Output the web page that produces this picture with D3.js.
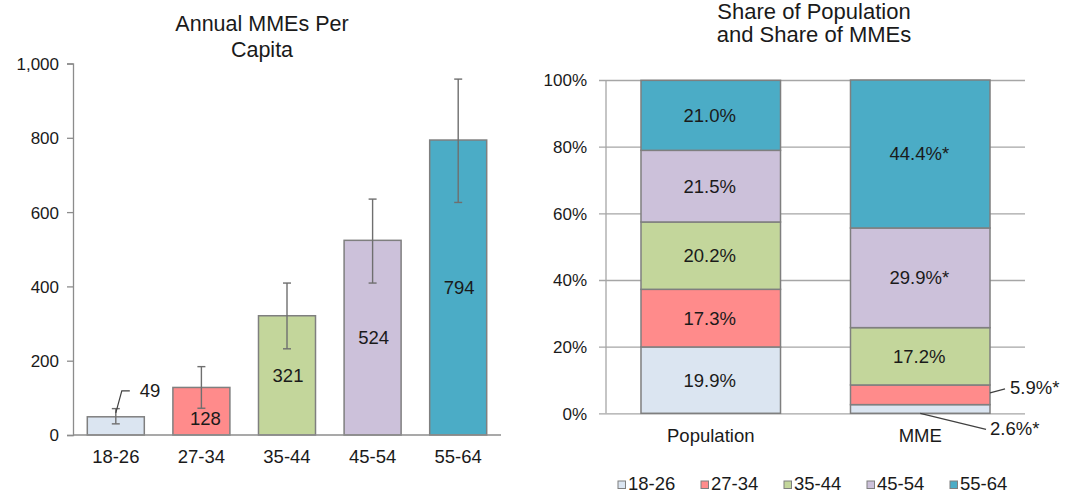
<!DOCTYPE html>
<meta charset="utf-8">
<script src="https://d3js.org/d3.v7.min.js"></script>
<style>
  body { margin: 0; background: #fff; }
  text { font-family: "Liberation Sans", Arial, sans-serif; fill: #1a1a1a; }
</style>
<body>
<div id="chart"></div>
</body>
<script>
    // values
    const ageGroups = ["18-26", "27-34", "35-44", "45-54", "55-64"];
    const mmePerCapita = [49, 128, 321, 524, 794];
    const ciLow = [30, 72, 232, 409, 626];
    const ciHigh = [71, 184, 409, 635, 958];
    const perCapitaTicks = [0, 200, 400, 600, 800, 1000];

    const shareCategories = ["Population", "MME"];
    const populationShare = [19.9, 17.3, 20.2, 21.5, 21.0];
    const mmeShare = [2.6, 5.9, 17.2, 29.9, 44.4];
    const populationStar = [false, false, false, false, false];
    const mmeStar = [true, true, false, true, true];
    const shareTicks = [0, 20, 40, 60, 80, 100];

    const colors = ["#dbe5f1", "#ff8b8b", "#c3d69b", "#ccc1da", "#4bacc6"];
    const edge = "#7f7f7f";

    const svg = d3.select("#chart")
        .append("svg")
        .attr("width", 1065)
        .attr("height", 498);

    // ---------- left: annual MMEs per capita ----------
    const left = { x0: 73, x1: 501, top: 63.5, bottom: 435 };

    const x = d3.scaleBand()
        .domain(ageGroups)
        .range([left.x0, left.x1])
        .paddingInner(0.334)
        .paddingOuter(0.167);

    const y = d3.scaleLinear()
        .domain([0, 1000])
        .range([left.bottom, left.top]);

    svg.append("text")
        .attr("text-anchor", "middle")
        .style("font-size", "21.5px")
        .selectAll("tspan")
        .data(["Annual MMEs Per", "Capita"])
        .join("tspan")
        .attr("x", 262)
        .attr("y", (d, i) => 31 + i * 26)
        .text(d => d);

    const yAxis = svg.append("g")
        .attr("transform", `translate(${left.x0},0)`)
        .call(d3.axisLeft(y).tickValues(perCapitaTicks).tickSize(6).tickPadding(8).tickFormat(d3.format(",")));
    yAxis.select(".domain").attr("stroke", "#8c8c8c").attr("stroke-width", 1.3);
    yAxis.selectAll(".tick line").attr("stroke", "#8c8c8c").attr("stroke-width", 1.3);
    yAxis.selectAll(".tick text").style("font-size", "17px").attr("fill", "#262626").attr("dy", "0.35em");

    const leftData = ageGroups.map((g, i) => ({ group: g, value: mmePerCapita[i], lo: ciLow[i], hi: ciHigh[i], color: colors[i] }));

    svg.selectAll(".pcbar")
        .data(leftData)
        .join("rect")
        .attr("class", "pcbar")
        .attr("x", d => x(d.group))
        .attr("y", d => y(d.value))
        .attr("width", x.bandwidth())
        .attr("height", d => y(0) - y(d.value))
        .attr("fill", d => d.color)
        .attr("stroke", edge)
        .attr("stroke-width", 1.5);

    // baseline
    svg.append("line")
        .attr("x1", left.x0).attr("x2", left.x1)
        .attr("y1", y(0)).attr("y2", y(0))
        .attr("stroke", "#8c8c8c").attr("stroke-width", 1.3);

    // error bars
    const err = svg.selectAll(".err")
        .data(leftData)
        .join("g")
        .attr("class", "err")
        .attr("stroke", "#6f6f6f")
        .attr("stroke-width", 1.4);
    err.append("line")
        .attr("x1", d => x(d.group) + x.bandwidth() / 2)
        .attr("x2", d => x(d.group) + x.bandwidth() / 2)
        .attr("y1", d => y(d.lo))
        .attr("y2", d => y(d.hi));
    err.selectAll(".cap")
        .data(d => [d.lo, d.hi].map(v => ({ v: v, cx: x(d.group) + x.bandwidth() / 2 })))
        .join("line")
        .attr("x1", d => d.cx - 4)
        .attr("x2", d => d.cx + 4)
        .attr("y1", d => y(d.v))
        .attr("y2", d => y(d.v));

    // value labels (the smallest one sits outside with a leader)
    svg.selectAll(".pclabel")
        .data(leftData.slice(1))
        .join("text")
        .attr("class", "pclabel")
        .attr("text-anchor", "middle")
        .style("font-size", "18.5px")
        .attr("x", (d, i) => x(d.group) + x.bandwidth() / 2 + (i === 0 ? 4 : 1))
        .attr("y", (d, i) => (y(d.value) + y(0)) / 2 + (i === 0 ? 14 : 6.5))
        .text(d => d.value);

    const first = leftData[0];
    const fx = x(first.group) + x.bandwidth() / 2;
    svg.append("path")
        .attr("d", d3.line()([[fx, y(first.value) - 4], [fx + 6, y(first.value) - 26], [fx + 14, y(first.value) - 26]]))
        .attr("fill", "none")
        .attr("stroke", "#404040")
        .attr("stroke-width", 1.2);
    svg.append("text")
        .attr("x", fx + 24)
        .attr("y", y(first.value) - 20)
        .style("font-size", "18.5px")
        .text(first.value);

    svg.append("g")
        .selectAll("text")
        .data(ageGroups)
        .join("text")
        .attr("x", d => x(d) + x.bandwidth() / 2)
        .attr("y", 463)
        .attr("text-anchor", "middle")
        .style("font-size", "18.5px")
        .attr("fill", "#262626")
        .text(d => d);

    // ---------- right: share of population / MMEs ----------
    const right = { x0: 606, x1: 1025, top: 80, bottom: 413.3 };

    const x2 = d3.scaleBand()
        .domain(shareCategories)
        .range([right.x0, right.x1])
        .paddingInner(0.334)
        .paddingOuter(0.167);

    const y2 = d3.scaleLinear()
        .domain([0, 100])
        .range([right.bottom, right.top]);

    svg.append("text")
        .attr("text-anchor", "middle")
        .style("font-size", "22px")
        .selectAll("tspan")
        .data(["Share of Population", "and Share of MMEs"])
        .join("tspan")
        .attr("x", 814)
        .attr("y", (d, i) => 18.5 + i * 23.5)
        .text(d => d);

    // gridlines + tick labels
    const y2Axis = svg.append("g")
        .attr("transform", `translate(${right.x0},0)`)
        .call(d3.axisLeft(y2).tickValues(shareTicks).tickSize(-(right.x1 - right.x0)).tickPadding(19).tickFormat(d => d + "%"));
    y2Axis.select(".domain").remove();
    y2Axis.selectAll(".tick line").attr("stroke", "#a6a6a6").attr("stroke-width", 1.3).attr("x1", -7);
    y2Axis.selectAll(".tick text").style("font-size", "17px").attr("fill", "#262626").attr("dy", "0.35em");

    svg.append("line")
        .attr("x1", right.x0).attr("x2", right.x0)
        .attr("y1", y2(100)).attr("y2", y2(0))
        .attr("stroke", "#a6a6a6").attr("stroke-width", 1.3);

    const shareRows = shareCategories.map((c, j) => {
        const vals = j === 0 ? populationShare : mmeShare;
        const stars = j === 0 ? populationStar : mmeStar;
        const row = { cat: c, stars: stars };
        ageGroups.forEach((g, i) => { row[g] = vals[i]; });
        return row;
    });

    const stacked = d3.stack().keys(ageGroups)(shareRows);

    const layers = svg.selectAll(".layer")
        .data(stacked)
        .join("g")
        .attr("class", "layer")
        .attr("fill", (d, i) => colors[i]);

    layers.selectAll("rect")
        .data(d => d)
        .join("rect")
        .attr("x", d => x2(d.data.cat))
        .attr("y", d => y2(d[1]))
        .attr("width", x2.bandwidth())
        .attr("height", d => y2(d[0]) - y2(d[1]))
        .attr("stroke", edge)
        .attr("stroke-width", 1.5);

    const fmt = (v, star) => v.toFixed(1) + "%" + (star ? "*" : "");

    // labels inside segments (skip MME's two small ones)
    const segLabels = stacked.flatMap((layer, i) => layer.map(d => ({ key: layer.key, idx: i, d: d })))
        .filter(s => !(s.d.data.cat === "MME" && s.idx < 2));

    svg.selectAll(".seglabel")
        .data(segLabels)
        .join("text")
        .attr("class", "seglabel")
        .attr("text-anchor", "middle")
        .style("font-size", "18.5px")
        .attr("x", s => x2(s.d.data.cat) + x2.bandwidth() / 2 - 1)
        .attr("y", s => (y2(s.d[0]) + y2(s.d[1])) / 2 + 6.5)
        .text(s => fmt(s.d.data[s.key], s.d.data.stars[s.idx]));

    // outside labels with leaders for the two thin MME segments
    const mmeX = x2("MME");
    const mmeR = mmeX + x2.bandwidth();
    const seg2 = stacked[1][1];
    const seg1 = stacked[0][1];
    const midY2 = (y2(seg2[0]) + y2(seg2[1])) / 2;

    svg.append("path")
        .attr("d", d3.line()([[mmeR, midY2 - 2], [mmeR + 15, midY2 - 6]]))
        .attr("stroke", "#404040").attr("stroke-width", 1.2).attr("fill", "none");
    svg.append("text")
        .attr("x", mmeR + 20)
        .attr("y", midY2 - 0.5)
        .style("font-size", "18.5px")
        .text(fmt(seg2.data[ageGroups[1]], mmeStar[1]));

    svg.append("path")
        .attr("d", d3.line()([[mmeX + x2.bandwidth() / 2, y2(seg1[0])], [mmeR - 4, y2(seg1[0]) + 16]]))
        .attr("stroke", "#404040").attr("stroke-width", 1.2).attr("fill", "none");
    svg.append("text")
        .attr("x", mmeR)
        .attr("y", y2(seg1[0]) + 22)
        .style("font-size", "18.5px")
        .text(fmt(seg1.data[ageGroups[0]], mmeStar[0]));

    svg.append("g")
        .selectAll("text")
        .data(shareCategories)
        .join("text")
        .attr("x", d => x2(d) + x2.bandwidth() / 2)
        .attr("y", 442)
        .attr("text-anchor", "middle")
        .style("font-size", "18.5px")
        .attr("fill", "#262626")
        .text(d => d);

    // legend
    const legend = svg.append("g")
        .selectAll("g")
        .data(ageGroups)
        .join("g")
        .attr("transform", (d, i) => `translate(${618 + i * 83},481)`);
    legend.append("rect")
        .attr("width", 7.5).attr("height", 7.5)
        .attr("fill", (d, i) => colors[i])
        .attr("stroke", edge).attr("stroke-width", 1);
    legend.append("text")
        .attr("x", 10)
        .attr("y", 8.5)
        .style("font-size", "18.5px")
        .attr("fill", "#262626")
        .text(d => d);
</script>
